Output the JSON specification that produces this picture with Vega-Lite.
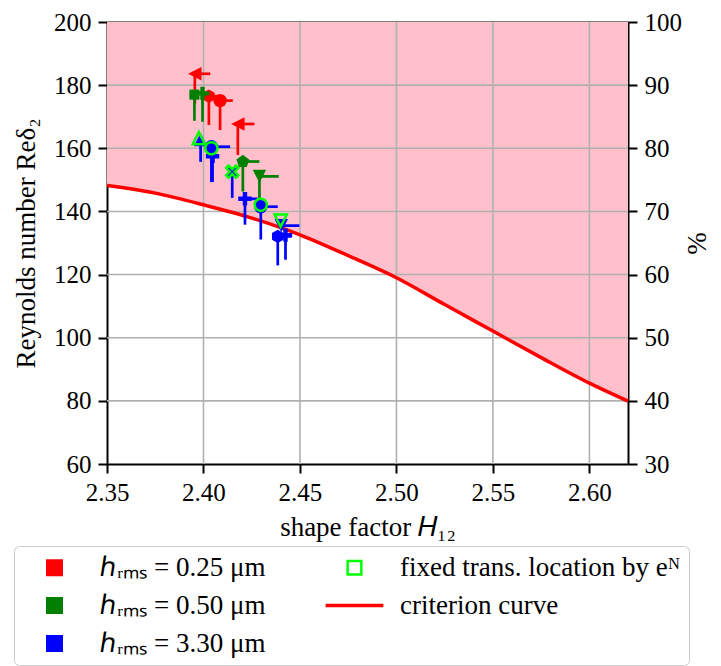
{
  "$schema": "https://vega.github.io/schema/vega-lite/v6.json",
  "width": 521,
  "height": 442,
  "autosize": "none",
  "padding": {"left": 107, "top": 22, "right": 93, "bottom": 202},
  "background": "white",
  "datasets": {
    "curve": [
      {"H": 2.35, "Re": 148.2, "s": "criterion curve"},
      {"H": 2.375, "Re": 145.8, "s": "criterion curve"},
      {"H": 2.40, "Re": 142.1, "s": "criterion curve"},
      {"H": 2.425, "Re": 137.9, "s": "criterion curve"},
      {"H": 2.45, "Re": 132.6, "s": "criterion curve"},
      {"H": 2.475, "Re": 126.0, "s": "criterion curve"},
      {"H": 2.50, "Re": 119.0, "s": "criterion curve"},
      {"H": 2.525, "Re": 110.5, "s": "criterion curve"},
      {"H": 2.55, "Re": 102.1, "s": "criterion curve"},
      {"H": 2.575, "Re": 93.7, "s": "criterion curve"},
      {"H": 2.60, "Re": 85.6, "s": "criterion curve"},
      {"H": 2.62, "Re": 79.9, "s": "criterion curve"}
    ],
    "gx": [{"v": 2.40}, {"v": 2.45}, {"v": 2.50}, {"v": 2.55}, {"v": 2.60}],
    "gy": [{"v": 80}, {"v": 100}, {"v": 120}, {"v": 140}, {"v": 160}, {"v": 180}],
    "pts": [
      {"s": "ℎᵣₘₛ = 0.25 μm", "m": "tl", "H": 2.3955, "Re": 183.6, "Hhi": 2.4035, "Relo": 174.0},
      {"s": "ℎᵣₘₛ = 0.25 μm", "m": "hx", "H": 2.4028, "Re": 176.5, "Hhi": 2.4070, "Relo": 167.4},
      {"s": "ℎᵣₘₛ = 0.25 μm", "m": "ci", "H": 2.4086, "Re": 175.1, "Hhi": 2.4152, "Relo": 165.8},
      {"s": "ℎᵣₘₛ = 0.25 μm", "m": "tl", "H": 2.4178, "Re": 167.7, "Hhi": 2.4264, "Relo": 157.9},
      {"s": "ℎᵣₘₛ = 0.50 μm", "m": "sq", "H": 2.3953, "Re": 177.0, "Hhi": 2.3953, "Relo": 168.7},
      {"s": "ℎᵣₘₛ = 0.50 μm", "m": "pl", "H": 2.3995, "Re": 177.4, "Hhi": 2.4010, "Relo": 168.4},
      {"s": "ℎᵣₘₛ = 0.50 μm", "m": "pe", "H": 2.4204, "Re": 155.8, "Hhi": 2.4290, "Relo": 146.3},
      {"s": "ℎᵣₘₛ = 0.50 μm", "m": "td", "H": 2.4290, "Re": 151.1, "Hhi": 2.4390, "Relo": 142.6},
      {"s": "ℎᵣₘₛ = 3.30 μm", "m": "tu", "H": 2.3985, "Re": 162.8, "Hhi": 2.3985, "Relo": 155.7},
      {"s": "ℎᵣₘₛ = 3.30 μm", "m": "ci", "H": 2.4041, "Re": 160.5, "Hhi": 2.4138, "Relo": 149.3},
      {"s": "ℎᵣₘₛ = 3.30 μm", "m": "pl", "H": 2.4047, "Re": 157.5, "Hhi": 2.4047, "Relo": 149.3},
      {"s": "ℎᵣₘₛ = 3.30 μm", "m": "x", "H": 2.4149, "Re": 152.6, "Hhi": 2.4149, "Relo": 144.3},
      {"s": "ℎᵣₘₛ = 3.30 μm", "m": "pl", "H": 2.4215, "Re": 144.0, "Hhi": 2.4280, "Relo": 135.8},
      {"s": "ℎᵣₘₛ = 3.30 μm", "m": "ci", "H": 2.4297, "Re": 141.5, "Hhi": 2.4385, "Relo": 131.1},
      {"s": "ℎᵣₘₛ = 3.30 μm", "m": "td", "H": 2.4403, "Re": 135.5, "Hhi": 2.4497, "Relo": 135.5},
      {"s": "ℎᵣₘₛ = 3.30 μm", "m": "hx", "H": 2.4385, "Re": 132.1, "Hhi": 2.4456, "Relo": 122.9},
      {"s": "ℎᵣₘₛ = 3.30 μm", "m": "pl", "H": 2.4425, "Re": 132.5, "Hhi": 2.4425, "Relo": 124.7}
    ],
    "open": [
      {"s": "fixed trans. location by eᴺ", "m": "tu", "H": 2.3976, "Re": 163.2},
      {"s": "fixed trans. location by eᴺ", "m": "ci", "H": 2.4041, "Re": 160.0},
      {"s": "fixed trans. location by eᴺ", "m": "x", "H": 2.4149, "Re": 152.6},
      {"s": "fixed trans. location by eᴺ", "m": "ci", "H": 2.4297, "Re": 142.1},
      {"s": "fixed trans. location by eᴺ", "m": "td", "H": 2.4400, "Re": 137.1}
    ]
  },
  "resolve": {"axis": {"x": "independent", "y": "independent"}},
  "layer": [
    {
      "data": {"name": "curve"},
      "mark": {"type": "area", "interpolate": "monotone", "fill": "#ffc0cb"},
      "encoding": {
        "x": {"field": "H", "type": "quantitative", "scale": {"domain": [2.35, 2.62], "nice": false, "zero": false},
              "axis": {"orient": "bottom", "values": [2.35, 2.40, 2.45, 2.50, 2.55, 2.60], "format": ".2f", "title": "shape factor 𝐻₁₂", "titlePadding": 9}},
        "y": {"field": "Re", "type": "quantitative", "scale": {"domain": [60, 200], "nice": false, "zero": false},
              "axis": {"orient": "left", "values": [60, 80, 100, 120, 140, 160, 180, 200], "title": "Reynolds number Reδ₂", "titlePadding": 13}},
        "y2": {"datum": 200}
      }
    },
    {
      "data": {"name": "gx"},
      "mark": {"type": "rule", "color": "#b0b0b0", "strokeWidth": 1.6},
      "encoding": {
        "x": {"field": "v", "type": "quantitative", "axis": {"orient": "top", "labels": false, "ticks": false, "title": null}}
      }
    },
    {
      "data": {"name": "gy"},
      "mark": {"type": "rule", "color": "#b0b0b0", "strokeWidth": 1.6},
      "encoding": {
        "y": {"field": "v", "type": "quantitative", "axis": null}
      }
    },
    {
      "data": {"name": "curve"},
      "mark": {"type": "line", "interpolate": "monotone", "strokeWidth": 3.5},
      "encoding": {
        "x": {"field": "H", "type": "quantitative", "axis": null},
        "y": {"field": "Re", "type": "quantitative",
              "axis": {"orient": "right", "values": [60, 80, 100, 120, 140, 160, 180, 200], "labelExpr": "format(datum.value / 2, 'd')", "title": "%", "titleAngle": 270, "titlePadding": 30}},
        "color": {"field": "s", "type": "nominal",
          "scale": {"domain": ["ℎᵣₘₛ = 0.25 μm", "ℎᵣₘₛ = 0.50 μm", "ℎᵣₘₛ = 3.30 μm", "fixed trans. location by eᴺ", "criterion curve"],
                    "range": ["#ff0000", "#008000", "#0000ff", "#00ff00", "#ff0000"]},
          "legend": {
            "title": null, "orient": "none", "legendX": -93, "legendY": 524, "columns": 2,
            "columnPadding": 52, "rowPadding": 10, "padding": 8,
            "strokeColor": "#cccccc", "fillColor": "white", "cornerRadius": 5,
            "symbolSize": 289, "symbolOffset": 19, "labelOffset": 32,
            "labelFont": "Liberation Serif", "labelFontSize": 27, "labelLimit": 600, "labelColor": "black",
            "encode": {"symbols": {"update": {
              "shape": {"signal": "datum.value === 'criterion curve' ? 'M-3.4,0L3.4,0' : (scale('color', datum.value) === '#00ff00' ? 'M-0.95,-0.95L0.95,-0.95L0.95,0.95L-0.95,0.95ZM-0.66,-0.66L-0.66,0.66L0.66,0.66L0.66,-0.66Z' : 'square')"},
              "stroke": {"signal": "scale('color', datum.value)"},
              "strokeWidth": {"signal": "datum.value === 'criterion curve' ? 3.5 : 0"},
              "opacity": {"value": 1}
            }}}
          }}
      }
    },
    {
      "data": {"name": "pts"},
      "mark": {"type": "rule", "strokeWidth": 2.7},
      "encoding": {
        "x": {"field": "H", "type": "quantitative", "axis": null},
        "y": {"field": "Re", "type": "quantitative", "axis": null},
        "y2": {"field": "Relo"},
        "color": {"field": "s", "type": "nominal"}
      }
    },
    {
      "data": {"name": "pts"},
      "mark": {"type": "rule", "strokeWidth": 2.7},
      "encoding": {
        "x": {"field": "H", "type": "quantitative", "axis": null},
        "x2": {"field": "Hhi"},
        "y": {"field": "Re", "type": "quantitative", "axis": null},
        "color": {"field": "s", "type": "nominal"}
      }
    },
    {
      "data": {"name": "pts"},
      "mark": {"type": "point", "filled": true, "opacity": 1, "size": 180},
      "encoding": {
        "x": {"field": "H", "type": "quantitative", "axis": null},
        "y": {"field": "Re", "type": "quantitative", "axis": null},
        "color": {"field": "s", "type": "nominal"},
        "shape": {"field": "m", "type": "nominal", "legend": null,
          "scale": {"domain": ["tl", "sq", "pl", "pe", "td", "tu", "ci", "x", "hx"],
                    "range": ["M-1,0L1,-1L1,1Z", "M-0.75,-0.75L0.75,-0.75L0.75,0.75L-0.75,0.75Z", "M-0.33,-1L0.33,-1L0.33,-0.33L1,-0.33L1,0.33L0.33,0.33L0.33,1L-0.33,1L-0.33,0.33L-1,0.33L-1,-0.33L-0.33,-0.33Z", "M0,-1L0.951,-0.309L0.588,0.809L-0.588,0.809L-0.951,-0.309Z", "M-1,-1L1,-1L0,1Z", "M0,-1L1,1L-1,1Z", "circle", "M-1,-0.6L-0.6,-1L0,-0.4L0.6,-1L1,-0.6L0.4,0L1,0.6L0.6,1L0,0.4L-0.6,1L-1,0.6L-0.4,0Z", "M0,-1L0.866,-0.5L0.866,0.5L0,1L-0.866,0.5L-0.866,-0.5Z"]}}
      }
    },
    {
      "data": {"name": "open"},
      "mark": {"type": "point", "filled": false, "opacity": 1, "size": 150, "strokeWidth": 2.5},
      "encoding": {
        "x": {"field": "H", "type": "quantitative", "axis": null},
        "y": {"field": "Re", "type": "quantitative", "axis": null},
        "color": {"field": "s", "type": "nominal"},
        "shape": {"field": "m", "type": "nominal", "legend": null}
      }
    }
  ],
  "config": {
    "view": {"stroke": null},
    "axis": {
      "labelFont": "Liberation Serif", "labelFontSize": 25, "labelColor": "black",
      "titleFont": "Liberation Serif", "titleFontSize": 27, "titleFontWeight": "normal", "titleColor": "black",
      "domainColor": "black", "domainWidth": 2, "tickColor": "black", "tickWidth": 2, "tickSize": 9,
      "labelPadding": 7, "grid": false, "labelFlush": false, "labelOverlap": false, "zindex": 1
    }
  }
}
